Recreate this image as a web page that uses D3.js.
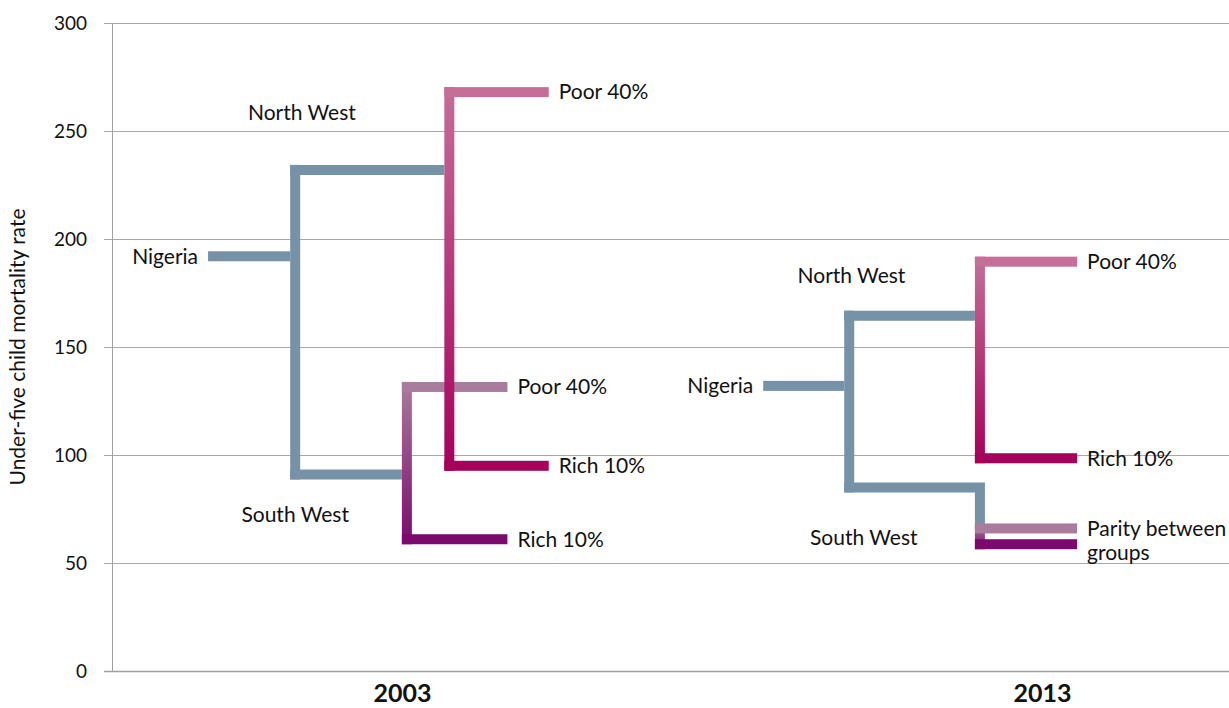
<!DOCTYPE html>
<html>
<head>
<meta charset="utf-8">
<script src="https://cdn.jsdelivr.net/npm/d3@7"></script>
<style>
  body { margin: 0; background: #fff; }
  text { font-family: Lato, "Open Sans", sans-serif; fill: #111; }
</style>
</head>
<body>
<script>
    //values (under-five mortality per 1000)
    var years = ["2003", "2013"];
    var nigeria = [192, 132];
    var northWest = [232, 164.5];
    var southWest = [91, 85];
    var nwPoor40 = [268, 189.5];
    var nwRich10 = [95, 98.5];
    var swPoor40 = [131.5, 66];
    var swRich10 = [61, 58.7];
    var swTopLabels = ["Poor 40%", "Parity between|groups"];
    var swBottomLabels = ["Rich 10%", ""];
    var yTicks = [0, 50, 100, 150, 200, 250, 300];

    //layout of each tree along the x axis (0-100 units across the plot)
    var layout = [
        {start: 8.6, split: 16.4, nwSplit: 30.2, swSplit: 26.4, nwEnd: 39.1, swEnd: 35.4,
         yearX: 26.0, nwLabel: [17.0, 258.3], swLabel: [16.4, 72.2]},
        {start: 58.3, split: 66.0, nwSplit: 77.7, swSplit: 77.7, nwEnd: 86.4, swEnd: 86.4,
         yearX: 83.3, nwLabel: [66.2, 182.9], swLabel: [67.3, 61.6]}
    ];

    var width = 1229,
        height = 708,
        lw = 10;

    var blue = "#7592a7";

    var svg = d3.select("body")
        .append("svg")
        .attr("width", width)
        .attr("height", height);

    var x = d3.scaleLinear().domain([0, 100]).range([112, 1229]);
    var y = d3.scaleLinear().domain([0, 300]).range([671, 23]);

    //gradients for the split brackets
    var defs = svg.append("defs");
    function gradient(id, top, bottom){
        var g = defs.append("linearGradient")
            .attr("id", id)
            .attr("x1", 0).attr("y1", 0).attr("x2", 0).attr("y2", 1);
        g.append("stop").attr("offset", "0%").attr("stop-color", top);
        g.append("stop").attr("offset", "100%").attr("stop-color", bottom);
    }
    gradient("nwGrad", "#c46e98", "#a6005b");
    gradient("swGrad", "#a97b9c", "#7c0a6e");

    //gridlines
    svg.append("g")
        .selectAll("line")
        .data(yTicks)
        .enter()
        .append("line")
        .attr("x1", 104)
        .attr("x2", width)
        .attr("y1", function(d){ return Math.round(y(d)) + 0.5; })
        .attr("y2", function(d){ return Math.round(y(d)) + 0.5; })
        .attr("stroke", function(d){ return d === 0 ? "#a0a0a0" : "#a8a8a8"; })
        .attr("stroke-width", function(d){ return d === 0 ? 1.5 : 1; });

    svg.append("line")
        .attr("x1", 112.5).attr("x2", 112.5)
        .attr("y1", y(300)).attr("y2", y(0))
        .attr("stroke", "#a0a0a0");

    //y axis labels
    var yAxis = svg.append("g")
        .attr("transform", "translate(112,0)")
        .call(d3.axisLeft(y).tickValues(yTicks).tickSize(0).tickPadding(25));
    yAxis.select(".domain").remove();
    yAxis.selectAll("text")
        .style("font-family", "Lato, sans-serif")
        .style("font-size", "19px")
        .attr("fill", "#111");

    svg.append("text")
        .attr("transform", "translate(25," + ((y(300) + y(0)) / 2) + ") rotate(-90)")
        .attr("text-anchor", "middle")
        .style("font-size", "21px")
        .text("Under-five child mortality rate");

    //draw one split bracket: gradient vertical plus two solid horizontals
    function bracket(g, cx, xEnd, top, bottom, grad, topColor, botColor){
        g.append("rect")
            .attr("x", cx - lw / 2)
            .attr("y", y(top) - lw / 2)
            .attr("width", lw)
            .attr("height", y(bottom) - y(top) + lw)
            .attr("fill", "url(#" + grad + ")");
        g.append("rect")
            .attr("x", cx - lw / 2).attr("y", y(top) - lw / 2)
            .attr("width", xEnd - cx + lw / 2).attr("height", lw)
            .attr("fill", topColor);
        g.append("rect")
            .attr("x", cx - lw / 2).attr("y", y(bottom) - lw / 2)
            .attr("width", xEnd - cx + lw / 2).attr("height", lw)
            .attr("fill", botColor);
    }

    //connector from region node to child bracket
    function connector(g, x0, v, cx, top, bottom){
        var p = d3.path();
        p.moveTo(x0, y(v));
        if (v <= top && v >= bottom){
            p.lineTo(cx - lw / 2, y(v));
        } else {
            var target = v > top ? top : bottom;
            p.lineTo(cx, y(v));
            p.lineTo(cx, y(target));
        }
        g.append("path")
            .attr("d", p.toString())
            .attr("fill", "none")
            .attr("stroke", blue)
            .attr("stroke-width", lw)
            .attr("stroke-linejoin", "miter");
    }

    years.forEach(function(yr, i){
        var L = layout[i];
        var g = svg.append("g").attr("class", "tree");
        var sx = x(L.split);

        //Nigeria stub and first split
        g.append("rect")
            .attr("x", sx - lw / 2).attr("y", y(northWest[i]) - lw / 2)
            .attr("width", lw).attr("height", y(southWest[i]) - y(northWest[i]) + lw)
            .attr("fill", blue);
        g.append("rect")
            .attr("x", x(L.start)).attr("y", y(nigeria[i]) - lw / 2)
            .attr("width", sx - lw / 2 - x(L.start)).attr("height", lw)
            .attr("fill", blue);

        connector(g, sx - lw / 2, northWest[i], x(L.nwSplit), nwPoor40[i], nwRich10[i]);
        connector(g, sx - lw / 2, southWest[i], x(L.swSplit), swPoor40[i], swRich10[i]);

        bracket(g, x(L.swSplit), x(L.swEnd), swPoor40[i], swRich10[i], "swGrad", "#a97b9c", "#7c0a6e");
        bracket(g, x(L.nwSplit), x(L.nwEnd), nwPoor40[i], nwRich10[i], "nwGrad", "#c46e98", "#a6005b");

        //labels
        var fs = "21px";
        g.append("text")
            .attr("x", x(L.start) - 10).attr("y", y(nigeria[i]))
            .attr("dy", "0.35em").attr("text-anchor", "end")
            .style("font-size", fs).text("Nigeria");
        g.append("text")
            .attr("x", x(L.nwLabel[0])).attr("y", y(L.nwLabel[1]))
            .attr("dy", "0.35em").attr("text-anchor", "middle")
            .style("font-size", fs).text("North West");
        g.append("text")
            .attr("x", x(L.swLabel[0])).attr("y", y(L.swLabel[1]))
            .attr("dy", "0.35em").attr("text-anchor", "middle")
            .style("font-size", fs).text("South West");
        g.append("text")
            .attr("x", x(L.nwEnd) + 10).attr("y", y(nwPoor40[i]))
            .attr("dy", "0.35em").style("font-size", fs).text("Poor 40%");
        g.append("text")
            .attr("x", x(L.nwEnd) + 10).attr("y", y(nwRich10[i]))
            .attr("dy", "0.35em").style("font-size", fs).text("Rich 10%");

        var t = g.append("text")
            .attr("x", x(L.swEnd) + 10).attr("y", y(swPoor40[i]))
            .style("font-size", fs);
        swTopLabels[i].split("|").forEach(function(s, k){
            t.append("tspan")
                .attr("x", x(L.swEnd) + 10)
                .attr("dy", k === 0 ? "0.35em" : "1.15em")
                .text(s);
        });
        if (swBottomLabels[i]){
            g.append("text")
                .attr("x", x(L.swEnd) + 10).attr("y", y(swRich10[i]))
                .attr("dy", "0.35em").style("font-size", fs).text(swBottomLabels[i]);
        }

        //year label
        svg.append("text")
            .attr("x", x(L.yearX)).attr("y", 702)
            .attr("text-anchor", "middle")
            .style("font-size", "25px")
            .style("font-weight", "bold")
            .text(yr);
    });
</script>
</body>
</html>
